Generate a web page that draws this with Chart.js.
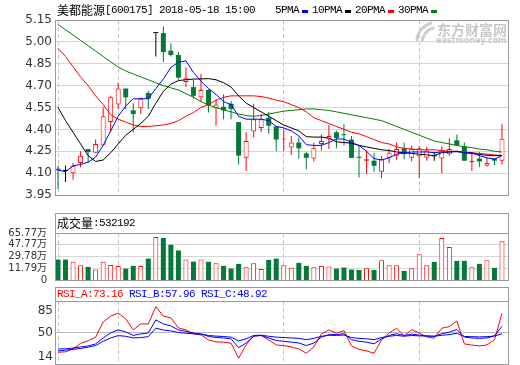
<!DOCTYPE html>
<html>
<head>
<meta charset="utf-8">
<script src="https://cdn.jsdelivr.net/npm/chart.js@4.4.1/dist/chart.umd.min.js"></script>
<style>
  html, body { margin: 0; padding: 0; background: #fff; }
  #wrap { position: relative; width: 520px; height: 365px; }
  #wrap canvas { position: absolute; left: 0; top: 0; }
</style>
</head>
<body>
<div id="wrap">
  <canvas id="kline" width="520" height="365"></canvas>
  <canvas id="vol" width="520" height="365"></canvas>
  <canvas id="rsi" width="520" height="365"></canvas>
</div>
<script>
// 美都能源 600175, daily candles up to 2018-05-18
const stockName = '美都能源';
const stockCode = '600175';
const stamp = '2018-05-18 15:00';

const days = [
  '02-12','02-13','02-14','02-22','02-23','02-26','02-27','02-28',
  '03-01','03-02','03-05','03-06','03-07','03-08','03-09','03-12','03-13','03-14','03-15','03-16',
  '03-19','03-20','03-21','03-22','03-23','03-26','03-27','03-28','03-29','03-30',
  '04-02','04-03','04-04','04-09','04-10','04-11','04-12','04-13','04-16','04-17','04-18','04-19','04-20',
  '04-23','04-24','04-25','04-26','04-27',
  '05-02','05-03','05-07','05-08','05-09','05-10','05-11','05-14','05-15','05-16','05-17','05-18'
];

const open = [
  4.13, 4.115, 4.10, 4.17, 4.265, 4.24, 4.29, 4.45, 4.57, 4.68,
  4.53, 4.545, 4.65, 5.06, 5.06, 4.94, 4.91, 4.725, 4.69, 4.62,
  4.67, 4.545, 4.555, 4.575, 4.45, 4.205, 4.385, 4.41, 4.48, 4.42,
  4.33, 4.275, 4.31, 4.235, 4.20, 4.30, 4.33, 4.38, 4.365, 4.33,
  4.21, 4.185, 4.185, 4.11, 4.205, 4.22, 4.27, 4.205, 4.215, 4.205,
  4.215, 4.20, 4.23, 4.325, 4.285, 4.175, 4.20, 4.15, 4.20, 4.185
];
const high = [
  4.15, 4.15, 4.17, 4.25, 4.265, 4.33, 4.55, 4.63, 4.72, 4.68,
  4.58, 4.62, 4.665, 5.06, 5.105, 4.99, 4.93, 4.825, 4.74, 4.78,
  4.675, 4.605, 4.64, 4.595, 4.45, 4.38, 4.575, 4.505, 4.52, 4.42,
  4.40, 4.355, 4.345, 4.245, 4.31, 4.365, 4.43, 4.39, 4.435, 4.355,
  4.29, 4.255, 4.24, 4.22, 4.265, 4.31, 4.31, 4.29, 4.285, 4.28,
  4.245, 4.285, 4.34, 4.365, 4.31, 4.245, 4.245, 4.205, 4.20, 4.435
];
const low = [
  3.99, 4.04, 4.055, 4.14, 4.17, 4.24, 4.29, 4.38, 4.54, 4.54,
  4.38, 4.505, 4.54, 4.90, 4.86, 4.90, 4.74, 4.69, 4.61, 4.59,
  4.515, 4.425, 4.47, 4.47, 4.16, 4.115, 4.345, 4.38, 4.37, 4.25,
  4.25, 4.225, 4.20, 4.125, 4.18, 4.255, 4.265, 4.27, 4.29, 4.205,
  4.07, 4.095, 4.11, 4.065, 4.17, 4.19, 4.195, 4.18, 4.065, 4.185,
  4.185, 4.10, 4.22, 4.29, 4.185, 4.115, 4.14, 4.145, 4.155, 4.16
];
const close = [
  4.12, 4.115, 4.15, 4.22, 4.245, 4.30, 4.49, 4.62, 4.68, 4.62,
  4.505, 4.61, 4.61, 5.06, 4.93, 4.91, 4.755, 4.75, 4.63, 4.67,
  4.565, 4.57, 4.53, 4.54, 4.22, 4.32, 4.47, 4.47, 4.425, 4.33,
  4.335, 4.31, 4.27, 4.205, 4.27, 4.32, 4.355, 4.34, 4.36, 4.205,
  4.205, 4.195, 4.15, 4.195, 4.24, 4.265, 4.23, 4.265, 4.27, 4.255,
  4.215, 4.255, 4.265, 4.29, 4.185, 4.185, 4.18, 4.17, 4.185, 4.335
];

const ma5 = [
  4.12, 4.11, 4.15, 4.16, 4.175, 4.21, 4.29, 4.39, 4.49, 4.56,
  4.61, 4.61, 4.61, 4.68, 4.745, 4.825, 4.86, 4.87, 4.79, 4.73,
  4.68, 4.64, 4.59, 4.57, 4.49, 4.47, 4.47, 4.47, 4.46, 4.42,
  4.41, 4.39, 4.355, 4.295, 4.29, 4.29, 4.31, 4.334, 4.334, 4.31,
  4.29, 4.25, 4.20, 4.19, 4.205, 4.23, 4.24, 4.245, 4.245, 4.245,
  4.24, 4.245, 4.245, 4.25, 4.24, 4.24, 4.22, 4.205, 4.196, 4.22
];
const ma10 = [
  4.55, 4.46, 4.38, 4.30, 4.22, 4.18, 4.19, 4.24, 4.30, 4.36,
  4.40, 4.44, 4.49, 4.58, 4.66, 4.71, 4.735, 4.74, 4.745, 4.746,
  4.748, 4.74, 4.72, 4.69, 4.63, 4.58, 4.55, 4.52, 4.49, 4.46,
  4.43, 4.41, 4.39, 4.35, 4.347, 4.347, 4.34, 4.315, 4.31, 4.305,
  4.29, 4.28, 4.27, 4.26, 4.255, 4.245, 4.24, 4.235, 4.23, 4.225,
  4.22, 4.24, 4.245, 4.247, 4.24, 4.235, 4.228, 4.222, 4.22, 4.22
];
const ma20 = [
  4.955, 4.90, 4.83, 4.76, 4.70, 4.63, 4.57, 4.50, 4.47, 4.45,
  4.43, 4.42, 4.42, 4.425, 4.43, 4.44, 4.46, 4.49, 4.515, 4.55,
  4.57, 4.60, 4.62, 4.63, 4.63, 4.63, 4.63, 4.625, 4.615, 4.60,
  4.59, 4.57, 4.55, 4.52, 4.48, 4.46, 4.44, 4.42, 4.40, 4.38,
  4.37, 4.35, 4.33, 4.31, 4.30, 4.28, 4.27, 4.265, 4.26, 4.26,
  4.26, 4.255, 4.25, 4.25, 4.245, 4.24, 4.235, 4.23, 4.225, 4.22
];
const ma30 = [
  5.12, 5.083, 5.047, 5.01, 4.974, 4.937, 4.90, 4.864, 4.827, 4.80,
  4.78, 4.76, 4.74, 4.72, 4.70, 4.685, 4.67, 4.645, 4.62, 4.59,
  4.567, 4.55, 4.535, 4.52, 4.505, 4.495, 4.49, 4.495, 4.505, 4.515,
  4.525, 4.53, 4.535, 4.54, 4.54, 4.535, 4.53, 4.52, 4.51, 4.50,
  4.49, 4.48, 4.47, 4.46, 4.44, 4.42, 4.40, 4.38, 4.36, 4.34,
  4.32, 4.31, 4.30, 4.29, 4.28, 4.275, 4.265, 4.26, 4.25, 4.245
];

// volume in 万 (10k shares)
const vol = [
  25.1, 25.1, 21.6, 16.5, 13.9, 9.7, 21.6, 16.9, 15.4, 11.3,
  15.4, 15.4, 26.6, 59.6, 58.1, 47.8, 39.0, 25.1, 22.0, 25.1,
  21.6, 19.5, 15.4, 11.3, 18.5, 13.4, 19.5, 10.8, 24.6, 26.6,
  16.5, 12.4, 20.0, 15.4, 13.4, 15.4, 14.4, 11.3, 12.9, 9.8,
  9.2, 11.8, 9.2, 24.1, 16.5, 16.5, 7.7, 11.8, 33.4, 16.5,
  21.6, 58.1, 44.2, 23.1, 23.1, 13.4, 18.5, 24.1, 12.4, 53.2192
];

const rsiA = [
  27, 27.5, 31, 37.5, 40.5, 45, 63, 70, 73.5, 66.7,
  53.6, 60.7, 60.7, 81.3, 70, 67.9, 56, 53.6, 48.8, 47.6,
  41.7, 39.3, 39, 37.7, 19.9, 35.7, 46.8, 46.8, 41.7, 35.7,
  34.9, 33.3, 31, 25.8, 33.3, 48.8, 53.6, 49.6, 52.7, 34.5,
  30.4, 28.6, 25.8, 41.7, 50, 55.6, 46.4, 53.9, 50, 45.2,
  43.7, 55.6, 57.5, 64.3, 36.9, 35.5, 34.5, 35.7, 41.7, 73.16
];
const rsiB = [
  31, 31, 32, 33.3, 34.5, 36.9, 44, 50, 53.6, 51.2,
  47, 48.8, 50, 65.5, 60.7, 58.3, 53.6, 51.8, 50, 48.8,
  45.8, 44.6, 44, 42.9, 32.5, 38, 46, 47, 44, 41,
  40, 39, 38, 35, 38, 45, 48, 48, 49, 42,
  40, 39, 37, 43, 47, 49, 47, 48.5, 47.5, 46.5,
  46, 49, 51, 54, 45, 44, 43.5, 44, 46.5, 57.96
];
const rsiC = [
  28.6, 29.5, 30.5, 31.5, 33, 35, 40, 44, 46.8, 46,
  44, 44.5, 45.6, 55.6, 53.5, 52.4, 50.5, 49.6, 49, 48.5,
  47, 46.2, 45.7, 45, 40.5, 43, 47, 47.3, 46, 45,
  44.5, 44, 43.5, 42, 43.5, 46, 47.2, 47, 47.5, 44.5,
  43.5, 43, 42, 44.5, 46, 47, 46, 47, 46.5, 46.2,
  46, 47.2, 48, 49.5, 45.8, 45.5, 45.3, 45.5, 46.3, 48.92
];

const priceTicks = [3.95, 4.10, 4.25, 4.40, 4.55, 4.70, 4.85, 5.00, 5.15];
const volTicks = [65.77, 47.77, 29.78, 11.79];
const volFloor = -6.2;           // bottom of volume axis, printed as "0"
const rsiTicks = [85, 50, 14];

const UP = '#ff0000', DOWN = '#06783a', FLAT = '#000000';
const candleColor = days.map((d, i) => close[i] > open[i] ? UP : close[i] < open[i] ? DOWN : FLAT);
const volColor = days.map((d, i) => {
  if (close[i] !== open[i]) return close[i] > open[i] ? UP : DOWN;
  return i > 0 && close[i] < close[i - 1] ? DOWN : UP;
});

const monthStarts = days.map((d, i) => i).filter(i => i === 0 || days[i].slice(0, 2) !== days[i - 1].slice(0, 2));
const monthLabel = i => parseInt(days[i].slice(0, 2), 10) + '月';

const pts = arr => arr.map((y, i) => ({ x: i, y: y }));
const X_MIN = -0.4, X_MAX = days.length - 0.2;
const CJK = '"Noto Sans CJK SC"';

Chart.defaults.font.family = '"DejaVu Sans", ' + CJK;

function xScale(showLabels) {
  return {
    type: 'linear', min: X_MIN, max: X_MAX, offset: false,
    afterBuildTicks: s => { s.ticks = monthStarts.concat([X_MAX]).map(v => ({ value: v })); },
    afterFit: s => { s.height = 0; },
    grid: {
      offset: false, drawTicks: false, lineWidth: 1,
      color: c => c.tick && c.tick.value < X_MAX ? '#c4c4c4' : 'rgba(0,0,0,0)'
    },
    border: { display: false, dash: [4, 3] },
    ticks: {
      display: showLabels, autoSkip: false, maxRotation: 0, align: 'inner',
      labelOffset: 3, padding: 4, color: '#ff0000',
      font: { family: '"DejaVu Sans", ' + CJK, size: 12 },
      callback: v => v < X_MAX ? monthLabel(v) : ''
    }
  };
}

// fixed-advance text, like the bitmap font of the original
function drawText(ctx, text, x, y, color) {
  ctx.save();
  ctx.fillStyle = color;
  ctx.textBaseline = 'middle';
  ctx.textAlign = 'left';
  for (const ch of text) {
    const wide = ch.charCodeAt(0) > 255;
    ctx.font = wide ? '12px ' + CJK : '11px "Liberation Mono"';
    ctx.fillText(ch, x, y);
    x += wide ? 12 : 6;
  }
  ctx.restore();
  return x;
}

const framePlugin = {
  id: 'frame',
  afterDraw(chart, args, opts) {
    const { ctx, chartArea: a } = chart;
    const L = Math.round(a.left) + 0.5, R = Math.round(a.right) + 0.5;
    const T = Math.round(opts.top != null ? opts.top : a.top) + 0.5;
    const B = Math.round(a.bottom) + 0.5;
    ctx.save();
    ctx.strokeStyle = '#9a9a9a';
    ctx.lineWidth = 1;
    ctx.strokeRect(L, T, R - L, B - T);
    if (opts.top != null) {
      const D = Math.round(a.top) + 0.5;
      ctx.beginPath(); ctx.moveTo(L, D); ctx.lineTo(R, D); ctx.stroke();
    }
    ctx.restore();
    if (opts.header) opts.header(ctx, chart);
  }
};

const noPlugins = { legend: { display: false }, tooltip: { enabled: false } };

// ---------- price panel ----------
new Chart(document.getElementById('kline'), {
  type: 'bar',
  data: {
    datasets: [
      { type: 'line', data: pts(ma5), borderColor: '#0000ff', borderWidth: 1, pointRadius: 0, order: 0 },
      { type: 'line', data: pts(ma10), borderColor: '#000000', borderWidth: 1, pointRadius: 0, order: 0 },
      { type: 'line', data: pts(ma20), borderColor: '#ff0000', borderWidth: 1, pointRadius: 0, order: 0 },
      { type: 'line', data: pts(ma30), borderColor: '#008000', borderWidth: 1, pointRadius: 0, order: 0 },
      {
        data: days.map((d, i) => ({ x: i, y: [open[i], close[i]] })),
        backgroundColor: candleColor.map(c => c === UP ? '#ffffff' : c),
        borderColor: candleColor,
        borderWidth: candleColor.map(c => c === UP ? 1 : 0),
        borderSkipped: false, barThickness: 5, minBarLength: 1, inflateAmount: 0,
        grouped: false, order: 1
      },
      {
        data: days.map((d, i) => ({ x: i, y: [low[i], high[i]] })),
        backgroundColor: candleColor,
        borderWidth: 0, barThickness: 1, inflateAmount: 0,
        grouped: false, order: 2
      }
    ]
  },
  options: {
    responsive: false, animation: false, events: [],
    layout: { padding: { left: 0, right: 12, top: 20, bottom: 170 } },
    plugins: Object.assign({}, noPlugins, {
      frame: {
        header(ctx, chart) {
          drawText(ctx, stockName + '[' + stockCode + '] ' + stamp, 57, 10, '#000');
          let x = 275;
          [['5PMA', '#0000ff'], ['10PMA', '#000000'], ['20PMA', '#ff0000'], ['30PMA', '#008000']].forEach(([t, c]) => {
            x = drawText(ctx, t, x, 10, '#000');
            ctx.fillStyle = c;
            ctx.fillRect(x + 3, 10, 6, 3);
            x += 13;
          });
        }
      },
      watermark: {}
    }),
    scales: {
      x: xScale(true),
      y: {
        min: 3.95, max: 5.15,
        afterBuildTicks: s => { s.ticks = priceTicks.map(v => ({ value: v })); },
        afterFit: s => { s.width = 55; },
        grid: { color: '#d6d6d6', drawTicks: false },
        border: { display: false },
        ticks: { autoSkip: false, padding: 3, color: '#333', font: { family: '"DejaVu Sans"', size: 12 }, callback: v => v.toFixed(2) }
      }
    }
  },
  plugins: [framePlugin, {
    id: 'watermark',
    beforeDatasetsDraw(chart) {
      const ctx = chart.ctx;
      ctx.save();
      ctx.strokeStyle = '#cfcfcf';
      ctx.lineWidth = 3;
      ctx.lineCap = 'round';
      ctx.beginPath(); ctx.moveTo(417, 40); ctx.quadraticCurveTo(418, 28, 431, 23); ctx.stroke();
      ctx.beginPath(); ctx.moveTo(422, 41); ctx.quadraticCurveTo(424, 31, 433, 28); ctx.stroke();
      ctx.fillStyle = '#c9c9c9';
      ctx.textBaseline = 'middle';
      ctx.font = 'bold 14px ' + CJK;
      ctx.fillText('东方财富网', 437, 30);
      ctx.font = 'bold 8px "DejaVu Sans"';
      ctx.fillText('eastmoney.com', 436, 41);
      ctx.restore();
    }
  }]
});

// ---------- volume panel ----------
new Chart(document.getElementById('vol'), {
  type: 'bar',
  data: {
    datasets: [{
      data: days.map((d, i) => ({ x: i, y: [volFloor, vol[i]] })),
      backgroundColor: volColor.map(c => c === UP ? '#ffffff' : c),
      borderColor: volColor,
      borderWidth: volColor.map(c => c === UP ? 1 : 0),
      borderSkipped: 'start', barThickness: 5, inflateAmount: 0, grouped: false
    }]
  },
  options: {
    responsive: false, animation: false, events: [],
    layout: { padding: { left: 0, right: 12, top: 233, bottom: 85 } },
    plugins: Object.assign({}, noPlugins, {
      frame: {
        top: 213,
        header(ctx) {
          drawText(ctx, '成交量:' + Math.round(vol[vol.length - 1] * 10000), 57, 223, '#000');
        }
      }
    }),
    scales: {
      x: xScale(false),
      y: {
        min: volFloor, max: volTicks[0],
        afterBuildTicks: s => { s.ticks = volTicks.concat([volFloor]).map(v => ({ value: v })); },
        afterFit: s => { s.width = 55; },
        grid: { color: '#d6d6d6', drawTicks: false },
        border: { display: false },
        ticks: {
          autoSkip: false, padding: 8, color: '#333', font: { family: '"DejaVu Sans", ' + CJK, size: 10 },
          callback: v => v <= volFloor ? '0' : v.toFixed(2) + '万'
        }
      }
    }
  },
  plugins: [framePlugin]
});

// ---------- RSI panel ----------
const last = a => a[a.length - 1].toFixed(2);
new Chart(document.getElementById('rsi'), {
  type: 'bar',
  data: {
    datasets: [
      { type: 'line', data: pts(rsiC), borderColor: '#0000ff', borderWidth: 1, pointRadius: 0 },
      { type: 'line', data: pts(rsiB), borderColor: '#0000ff', borderWidth: 1, pointRadius: 0 },
      { type: 'line', data: pts(rsiA), borderColor: '#ff0000', borderWidth: 1, pointRadius: 0 }
    ]
  },
  options: {
    responsive: false, animation: false, events: [],
    layout: { padding: { left: 0, right: 12, top: 301, bottom: 1 } },
    plugins: Object.assign({}, noPlugins, {
      frame: {
        top: 287,
        header(ctx, chart) {
          let x = drawText(ctx, 'RSI_A:' + last(rsiA), 57, 294, '#ff0000');
          x = drawText(ctx, ' RSI_B:' + last(rsiB), x, 294, '#0000ff');
          drawText(ctx, ' RSI_C:' + last(rsiC), x, 294, '#0000ff');
          // axis labels sit inside the band, as in the original
          const y = chart.scales.y;
          ctx.save();
          ctx.fillStyle = '#333';
          ctx.font = '12px "DejaVu Sans"';
          ctx.textAlign = 'right';
          rsiTicks.forEach((v, i) => {
            ctx.textBaseline = i === 0 ? 'top' : i === rsiTicks.length - 1 ? 'bottom' : 'middle';
            ctx.fillText(String(v), 53, y.getPixelForValue(v) + (i === 0 ? 1 : 0));
          });
          ctx.restore();
        }
      }
    }),
    scales: {
      x: xScale(false),
      y: {
        min: 13, max: 88,
        afterBuildTicks: s => { s.ticks = rsiTicks.map(v => ({ value: v })); },
        afterFit: s => { s.width = 55; },
        grid: { color: c => c.tick && c.tick.value === 50 ? '#bdbdbd' : 'rgba(0,0,0,0)', drawTicks: false },
        border: { display: false },
        ticks: { display: false }
      }
    }
  },
  plugins: [framePlugin]
});
</script>
</body>
</html>
